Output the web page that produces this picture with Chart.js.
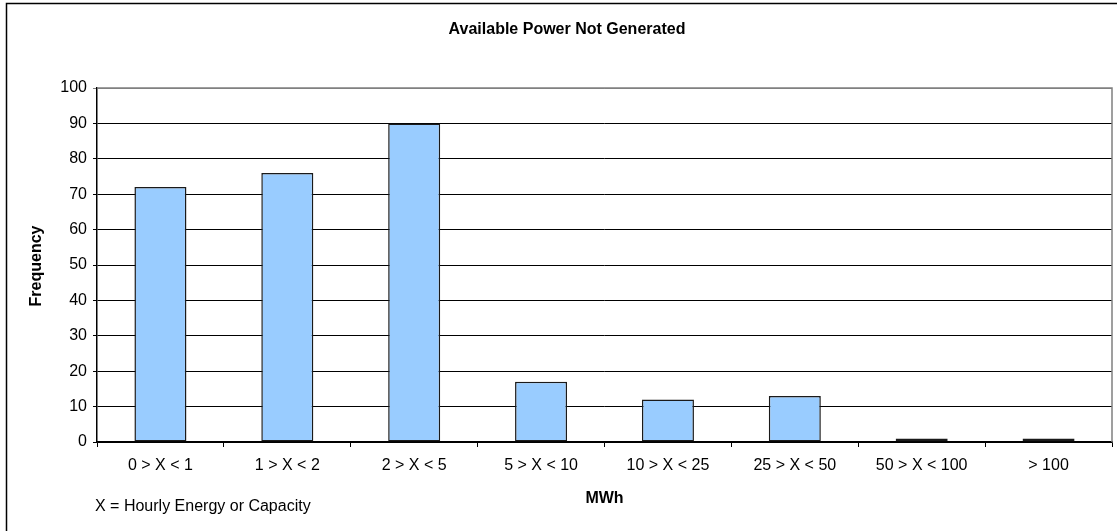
<!DOCTYPE html>
<html>
<head>
<meta charset="utf-8">
<script src="https://cdn.jsdelivr.net/npm/chart.js@4/dist/chart.umd.min.js"></script>
<style>
  html, body { margin: 0; padding: 0; background: #fff; }
  #wrap { width: 1117px; height: 531px; position: relative; }
</style>
</head>
<body>
<div id="wrap"><canvas id="c" width="1117" height="531"></canvas></div>
<script>
// Frequency of hourly unavailable energy, binned by MWh range
const categories = ['0 > X < 1', '1 > X < 2', '2 > X < 5', '5 > X < 10', '10 > X < 25', '25 > X < 50', '50 > X < 100', '> 100'];
const frequency = [72, 76, 90, 17, 12, 13, 1, 1];
const yTicks = [0, 10, 20, 30, 40, 50, 60, 70, 80, 90, 100];

const chartTitle = 'Available Power Not Generated';
const yTitle = 'Frequency';
const xTitle = 'MWh';
const footnote = 'X = Hourly Energy or Capacity';

const FONT = '"Liberation Sans", Arial, sans-serif';

// Frame, titles, footnote and the grey plot border
const decorations = {
  id: 'decorations',
  beforeDraw(chart) {
    const ctx = chart.ctx;
    ctx.save();
    ctx.fillStyle = '#fff';
    ctx.fillRect(0, 0, chart.width, chart.height);
    ctx.strokeStyle = '#000';
    ctx.lineWidth = 1.5;
    ctx.strokeRect(6.5, 3.5, 1200, 600);
    ctx.restore();
  },
  afterDraw(chart) {
    const ctx = chart.ctx;
    const a = chart.chartArea;
    ctx.save();
    // grey border on top and right of the plot
    ctx.strokeStyle = '#808080';
    ctx.lineWidth = 1.5;
    ctx.beginPath();
    ctx.moveTo(a.left, a.top);
    ctx.lineTo(a.right, a.top);
    ctx.lineTo(a.right, a.bottom);
    ctx.stroke();

    ctx.fillStyle = '#000';
    ctx.textBaseline = 'middle';
    ctx.textAlign = 'center';
    ctx.font = 'bold 16px ' + FONT;
    ctx.fillText(chartTitle, 567, 30);
    ctx.fillText(xTitle, (a.left + a.right) / 2, 499);

    ctx.save();
    ctx.translate(37, 266);
    ctx.rotate(-Math.PI / 2);
    ctx.fillText(yTitle, 0, 0);
    ctx.restore();

    ctx.textAlign = 'left';
    ctx.font = '16px ' + FONT;
    ctx.fillText(footnote, 95, 507);
    ctx.restore();
  }
};

new Chart(document.getElementById('c'), {
  type: 'bar',
  data: {
    labels: categories,
    datasets: [{
      data: frequency,
      backgroundColor: '#99CCFF',
      borderColor: '#1a1a1a',
      borderWidth: 1.5,
      borderSkipped: false,
      barPercentage: 0.41,
      categoryPercentage: 1
    }]
  },
  options: {
    responsive: false,
    animation: false,
    devicePixelRatio: 1,
    layout: { padding: { left: 0, top: 88, right: 5, bottom: 0 } },
    plugins: {
      legend: { display: false },
      title: { display: false },
      tooltip: { enabled: false }
    },
    scales: {
      x: {
        afterFit(s) { s.height = 89; },
        grid: {
          offset: true,
          drawOnChartArea: false,
          drawTicks: true,
          tickLength: 5,
          color: '#000'
        },
        border: { color: '#000', width: 1.5 },
        ticks: {
          color: '#000',
          padding: 9,
          maxRotation: 0,
          autoSkip: false,
          font: { family: FONT, size: 16 }
        }
      },
      y: {
        min: 0,
        max: 100,
        afterFit(s) { s.width = 97; },
        afterBuildTicks(s) { s.ticks = yTicks.map(v => ({ value: v })); },
        grid: {
          color: ctx => (ctx.tick && ctx.tick.value === 100 ? '#808080' : '#000'),
          lineWidth: 1,
          drawTicks: true,
          tickLength: 4
        },
        border: { color: '#000', width: 1.5 },
        ticks: {
          color: '#000',
          padding: 6,
          font: { family: FONT, size: 16 }
        }
      }
    }
  },
  plugins: [decorations]
});
</script>
</body>
</html>
